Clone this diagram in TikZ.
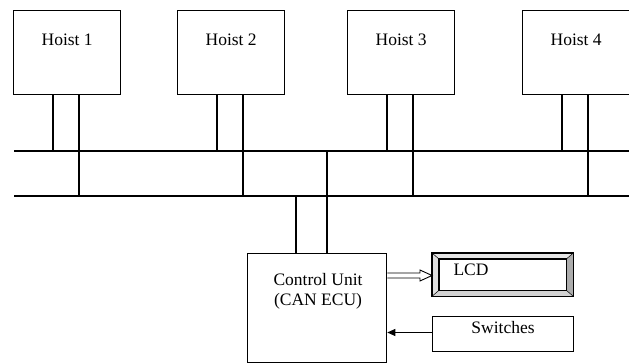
\documentclass[tikz,border=0pt]{standalone}
\usepackage{fontspec}
\setmainfont{Liberation Serif}
\usetikzlibrary{arrows.meta,calc}
\begin{document}
\begin{tikzpicture}[x=1pt,y=-1pt,
  box/.style={draw,line width=1.3pt,inner sep=0pt,anchor=north west},
  wire/.style={line width=1.8pt},
  lbl/.style={font=\fontsize{17.5}{20}\selectfont,inner sep=0pt}]
\useasboundingbox (0,0) rectangle (629,363);
% hoists
\foreach \i/\x in {1/13,2/177,3/347,4/522}{
  \node[box,minimum width=107pt,minimum height=84pt] (h\i) at (\x,10) {};
  \node[lbl] (h\i t) at ($(h\i.north)+(0,30)$) {Hoist \i};
}
% buses
\coordinate (b1l) at (14,151); \coordinate (b1r) at (629,151);
\coordinate (b2l) at (14,196); \coordinate (b2r) at (629,196);
\draw[wire] (b1l) -- (b1r);
\draw[wire] (b2l) -- (b2r);
\foreach \i in {1,...,4}{
  \draw[wire] ([xshift=40pt]h\i.south west) -- ([xshift=40pt]h\i.south west |- b1l);
  \draw[wire] ([xshift=66pt]h\i.south west) -- ([xshift=66pt]h\i.south west |- b2l);
}
% control unit
\node[box,minimum width=139pt,minimum height=108.5pt] (cu) at (247,253) {};
\node[lbl,align=center] (cut) at (318,291) {Control Unit\\(CAN ECU)};
\draw[wire] ([xshift=49pt]cu.north west) -- ([xshift=49pt]cu.north west |- b2l);
\draw[wire] ([xshift=80pt]cu.north west) -- ([xshift=80pt]cu.north west |- b1l);
% LCD bevel box
\node[box,minimum width=140pt,minimum height=42pt] (lcd) at (432,253) {};
\coordinate (inw) at ($(lcd.north west)+(7,6)$);
\coordinate (ine) at ($(lcd.north east)+(-7,6)$);
\coordinate (isw) at ($(lcd.south west)+(7,-6)$);
\coordinate (ise) at ($(lcd.south east)+(-7,-6)$);
\fill[gray!20] (lcd.north west) -- (lcd.north east) -- (ine) -- (inw) -- cycle;
\fill[gray!25] (lcd.north west) -- (inw) -- (isw) -- (lcd.south west) -- cycle;
\fill[gray!65] (lcd.north east) -- (ine) -- (ise) -- (lcd.south east) -- cycle;
\fill[gray!35] (lcd.south west) -- (isw) -- (ise) -- (lcd.south east) -- cycle;
\draw[line width=1.3pt] (lcd.north west) rectangle (lcd.south east);
\draw[line width=1.3pt] (inw) rectangle (ise);
\draw[line width=0.5pt] (lcd.north west) -- (inw) (lcd.north east) -- (ine)
  (lcd.south west) -- (isw) (lcd.south east) -- (ise);
\node[lbl] (lcdt) at (471,270) {LCD};
% switches
\node[box,minimum width=141pt,minimum height=35pt] (sw) at (432,316) {};
\node[lbl] (swt) at (503,328) {Switches};
% hollow double arrow cu -> lcd
\coordinate (a0) at (cu.east |- 0,275.5);
\coordinate (a1) at (lcd.west |- 0,275.5);
\draw[line width=0.9pt] ($(a0)+(0,-2.5)$) -- ($(a1)+(-12,-2.5)$) -- ($(a1)+(-12,-5.5)$) -- (a1) -- ($(a1)+(-12,5.5)$) -- ($(a1)+(-12,2.5)$) -- ($(a0)+(0,2.5)$);
% switches -> cu
\draw[line width=1pt,-{Triangle[length=8pt,width=7pt]}] (sw.west |- 0,332.5) -- (cu.east |- 0,332.5);
\end{tikzpicture}
\end{document}
